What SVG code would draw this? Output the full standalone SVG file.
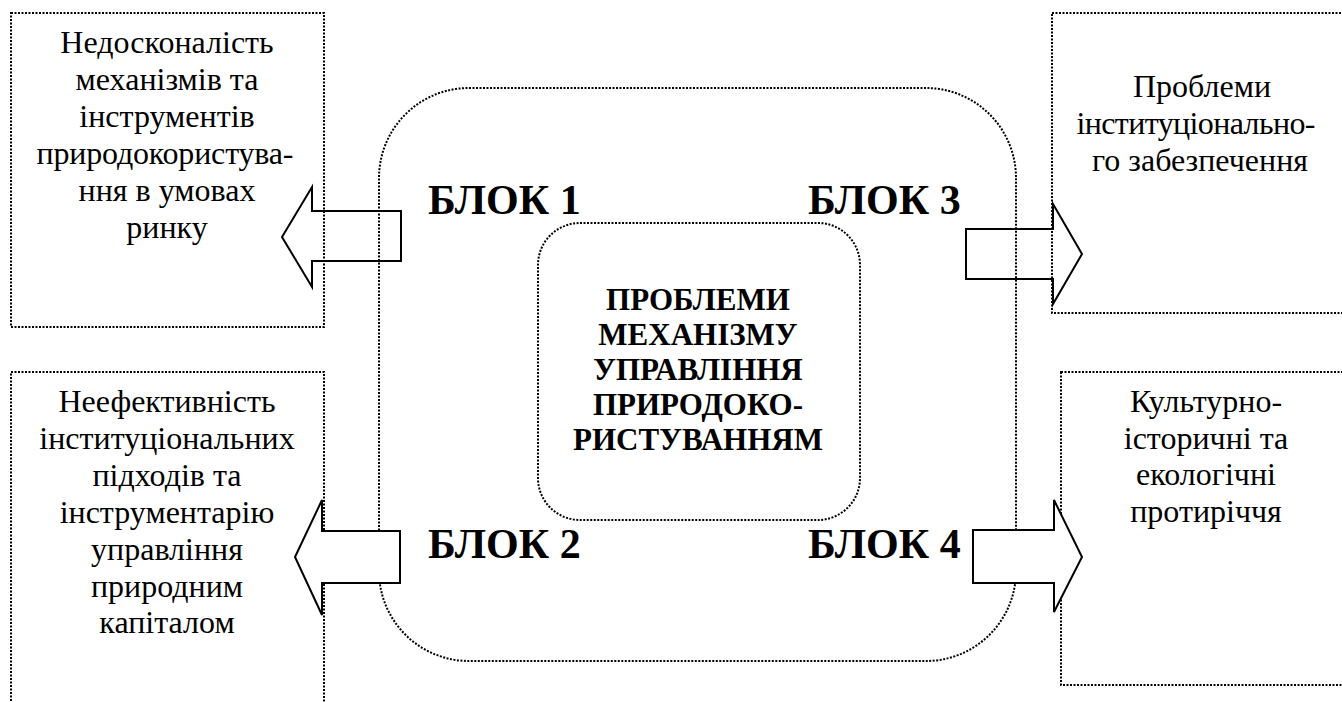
<svg xmlns="http://www.w3.org/2000/svg" width="1342" height="702" viewBox="0 0 1342 702">
<style>
.box{fill:none;stroke:#000;stroke-width:2;stroke-dasharray:2 1.5}
.arr{stroke:#000;stroke-width:2;stroke-linejoin:miter}
text{font-family:'Liberation Serif','DejaVu Serif',serif;fill:#000}
.t{font-size:32px;text-anchor:middle}
.b{font-weight:bold;font-size:42px}
.c{font-weight:bold;font-size:31px;text-anchor:middle}
</style>
<rect width="1342" height="702" fill="#fff"/>
<g id="box1">
<rect class="box" x="11" y="13" width="313" height="314"/>
<text class="t"><tspan x="167" y="53">Недосконалість</tspan><tspan x="167" y="90">механізмів та</tspan><tspan x="167" y="127">інструментів</tspan><tspan x="165" y="164" textLength="257" lengthAdjust="spacing">природокористува-</tspan><tspan x="167" y="201">ння в умовах</tspan><tspan x="167" y="238">ринку</tspan></text>
</g>
<g id="box2">
<rect class="box" x="11" y="372" width="313" height="345"/>
<text class="t"><tspan x="167" y="412">Неефективність</tspan><tspan x="167" y="449">інституціональних</tspan><tspan x="167" y="486">підходів та</tspan><tspan x="167" y="523">інструментарію</tspan><tspan x="167" y="560">управління</tspan><tspan x="167" y="597">природним</tspan><tspan x="167" y="633">капіталом</tspan></text>
</g>
<g id="box3">
<rect class="box" x="1052" y="13" width="300" height="300"/>
<text class="t"><tspan x="1202" y="97">Проблеми</tspan><tspan x="1196" y="134" textLength="239" lengthAdjust="spacing">інституціонально-</tspan><tspan x="1200" y="171">го забезпечення</tspan></text>
</g>
<g id="box4">
<rect class="box" x="1061" y="372" width="290" height="313"/>
<text class="t"><tspan x="1206" y="412">Культурно-</tspan><tspan x="1206" y="449">історичні та</tspan><tspan x="1206" y="485">екологічні</tspan><tspan x="1206" y="522">протиріччя</tspan></text>
</g>
<g id="outer">
<rect class="box" x="379" y="88" width="637" height="573" rx="90" ry="90"/>
<text class="b" x="428" y="214">БЛОК 1</text>
<text class="b" x="428" y="558">БЛОК 2</text>
<text class="b" x="808" y="214">БЛОК 3</text>
<text class="b" x="808" y="558">БЛОК 4</text>
</g>
<g id="center">
<rect class="box" x="538" y="223" width="322" height="297" rx="42" ry="42"/>
<text class="c"><tspan x="698" y="310">ПРОБЛЕМИ</tspan><tspan x="698" y="345">МЕХАНІЗМУ</tspan><tspan x="698" y="380">УПРАВЛІННЯ</tspan><tspan x="698" y="415">ПРИРОДОКО-</tspan><tspan x="698" y="450">РИСТУВАННЯМ</tspan></text>
</g>
<g id="connectors">
<polygon class="arr" fill="none" points="401,211 312,211 312,187 282,237 312,287 312,261 401,261"/>
<polygon class="arr" fill="#fff" points="400,531 322,531 322,500 295,557 322,615 322,583 400,583"/>
<polygon class="arr" fill="none" points="966,229 1053,229 1053,204 1082,254 1053,304 1053,279 966,279"/>
<polygon class="arr" fill="#fff" points="973,530 1054,530 1054,500 1082,557 1054,612 1054,583 973,583"/>
</g>
</svg>
